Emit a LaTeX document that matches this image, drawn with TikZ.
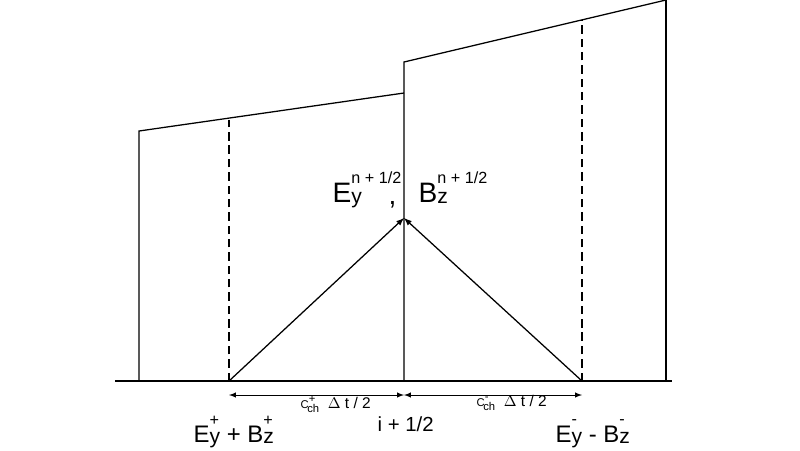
\documentclass[tikz,border=0pt]{standalone}
\usepackage{fontspec}
\setmainfont{Liberation Sans}

\newcommand{\supsz}{\fontsize{11.5}{14}\selectfont}
\newcommand{\subsz}{\fontsize{15}{18}\selectfont}
\newcommand{\tinysz}{\fontsize{8}{9}\selectfont}
% field with lower and upper index: #1 letter, #2 sub, #3 sup, #4 raise of sup
\newcommand{\fld}[4]{#1\ooalign{\raisebox{-1pt}{\subsz #2}\cr\raisebox{#4}{\supsz #3}\cr}}
% characteristic speed label
\newcommand{\cch}[1]{{\tinysz C}\ooalign{\raisebox{4pt}{\tinysz #1}\cr\raisebox{-3.5pt}{\hspace{-1pt}\tinysz ch}\cr}\ \ $\Delta$ t / 2}

\begin{document}
\begin{tikzpicture}[>=latex, x=0.025cm, y=-0.025cm, line width=0.9pt]
        \useasboundingbox (0,0) rectangle (800,450);
        \tikzset{lbl/.style={anchor=base west, inner sep=0pt, font=\fontsize{20}{24}\selectfont}}
        \tikzset{lblsm/.style={lbl, font=\fontsize{17}{20}\selectfont}}

        % base line and cell walls
        \coordinate (axL) at (115,381);
        \coordinate (axR) at (672,381);
        \coordinate (wL) at (139,381);
        \coordinate (wM) at (404,381);
        \coordinate (wR) at (666,381);
        \coordinate (tL) at (139,131);
        \coordinate (tML) at (404,93);
        \coordinate (tMR) at (404,62);
        \coordinate (tR) at (666,0);
        \draw (axL) -- (axR);
        \draw (wL) -- (tL) -- (tML);
        \draw (wM) -- (tMR) -- (tR);
        \draw (wR) -- (tR);

        % characteristic feet
        \coordinate (fP) at (229,381);
        \coordinate (fM) at (582,381);
        \coordinate (top) at (404,218);
        \draw[dash pattern=on 6pt off 3.5pt] (fP) -- (229,120);
        \draw[dash pattern=on 6pt off 3.5pt] (fM) -- (582,20);
        \draw[->] (fP) -- (top);
        \draw[->] (fM) -- (top);

        % half time step spans
        \coordinate (dP) at (229,395);
        \coordinate (dC) at (404,395);
        \coordinate (dM) at (582,395);
        \draw[<->, line width=0.7pt] (dP) -- (dC);
        \draw[<->, line width=0.7pt] (dC) -- (dM);

        \node[anchor=base west, inner sep=0pt, font=\fontsize{11}{13}\selectfont] (cP) at (300,408) {\cch{+}};
        \node[anchor=base west, inner sep=0pt, font=\fontsize{11}{13}\selectfont] (cM) at (476,406) {\cch{-}};
        \node[lbl, font=\fontsize{14.5}{17}\selectfont] (ih) at (377,431) {i + 1/2};

        \node[lbl] (Ey) at (332,202) {\fld{E}{y}{n + 1/2}{13pt}};
        \node[lbl] (cm) at (388,204) {,};
        \node[lbl] (Bz) at (418,202) {\fld{B}{z}{n + 1/2}{13pt}};

        \node[lblsm] (sP) at (193,442) {\fld{E}{y}{+}{12pt} + \fld{B}{z}{+}{12pt}};
        \node[lblsm] (sM) at (555,442) {\fld{E}{y}{-}{12.5pt} - \fld{B}{z}{-}{12.5pt}};
    \end{tikzpicture}
\end{document}
